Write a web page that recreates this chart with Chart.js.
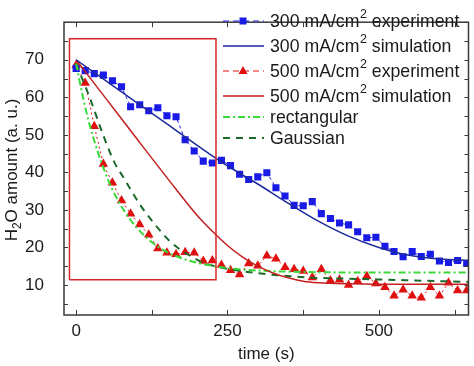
<!DOCTYPE html>
<html>
<head>
<meta charset="UTF-8">
<title>H2O amount</title>
<script src="https://cdn.jsdelivr.net/npm/chart.js"></script>
<style>
  html, body { margin: 0; padding: 0; background: #fff; }
</style>
</head>
<body>
<canvas id="grafico" width="474" height="366"></canvas>
<script>
// time axis of the measured points (s)
const expTime = [0, 15, 30, 45, 60, 75, 90, 105, 120, 135, 150, 165, 180, 195, 210, 225, 240, 255,
  270, 285, 300, 315, 330, 345, 360, 375, 390, 405, 420, 435, 450, 465, 480, 495, 510, 525,
  540, 555, 570, 585, 600, 615, 630, 645];
const exp300 = [67.7, 67.1, 66.3, 65.9, 64.4, 62.8, 57.5, 58.0, 56.4, 57.2, 55.1, 54.8, 48.7, 45.7,
  43.0, 42.5, 43.2, 41.8, 39.5, 38.1, 38.8, 39.9, 35.9, 33.7, 31.2, 31.1, 32.2, 29.0, 27.7, 26.5,
  26.0, 24.2, 22.6, 22.7, 20.3, 18.9, 17.5, 18.9, 17.6, 18.2, 16.4, 16.0, 16.5, 15.7];
const exp500 = [68.5, 63.8, 52.3, 42.2, 37.2, 32.5, 29.0, 26.1, 23.4, 19.7, 18.6, 18.2, 18.7, 18.6,
  16.4, 16.5, 15.3, 13.9, 12.8, 15.7, 15.1, 17.8, 17.0, 14.7, 14.2, 13.7, 12.0, 14.2, 11.2, 11.4,
  10.0, 11.0, 12.3, 10.4, 9.4, 7.1, 8.7, 7.1, 6.6, 9.4, 7.1, 10.6, 8.5, 8.5];

// simulations
const sim300Time = [0, 50, 100, 150, 200, 250, 300, 350, 400, 450, 500, 550, 600, 650];
const sim300 = [70, 64.3, 58.6, 52.9, 47.2, 41.7, 36.9, 31.8, 27.0, 23.0, 20.0, 17.9, 16.9, 16.6];
const sim500Time = [0, 50, 100, 150, 200, 225, 250, 275, 300, 325, 350, 375, 400, 450, 500, 650];
const sim500 = [70, 59.5, 49.0, 38.6, 28.5, 24.3, 20.5, 17.4, 15.0, 13.2, 11.9, 11.0, 10.6, 10.3, 10.2, 10.2];
const rectTime = [0, 12, 23, 30, 45, 60, 80, 100, 125, 150, 175, 200, 250, 300, 350, 400, 500, 650];
const rectVal = [69.0, 59.5, 52.2, 48.4, 41.2, 35.4, 29.6, 25.3, 21.4, 18.8, 17.1, 15.9, 14.5, 13.85, 13.55, 13.4, 13.3, 13.3];
const gaussTime = [0, 10, 23, 45, 64, 78, 92, 108, 138, 157, 190, 209, 250, 302, 384, 466, 560, 650];
const gaussVal = [69.0, 65.0, 59.7, 49.8, 42.4, 38.7, 34.9, 30.8, 24.6, 21.3, 17.6, 16.0, 14.3, 13.1, 12.0, 11.6, 11.2, 10.8];

// highlighted region
const boxTime = [-11, 231];
const boxVal = [11.4, 75.6];

const xTicks = [0, 250, 500];
const yTicks = [10, 20, 30, 40, 50, 60, 70];

const FONT = "'Liberation Sans', Arial, sans-serif";

function pts(xs, ys) {
  return xs.map((x, i) => ({ x: x, y: ys[i] }));
}

const boxPts = [
  { x: boxTime[0], y: boxVal[0] }, { x: boxTime[0], y: boxVal[1] },
  { x: boxTime[1], y: boxVal[1] }, { x: boxTime[1], y: boxVal[0] },
  { x: boxTime[0], y: boxVal[0] }
];

const legendItems = [
  { label: "300 mA/cm² experiment", color: "#1a1ae6", dash: [6, 4], width: 1.2, marker: "rect" },
  { label: "300 mA/cm² simulation", color: "#1c2a9c", dash: [], width: 1.5 },
  { label: "500 mA/cm² experiment", color: "#e01010", dash: [6, 4], width: 1.2, marker: "triangle" },
  { label: "500 mA/cm² simulation", color: "#c42020", dash: [], width: 1.5 },
  { label: "rectangular", color: "#38d838", dash: [7, 3, 2, 3], width: 2 },
  { label: "Gaussian", color: "#1b6a2c", dash: [7, 6], width: 2 }
];
const legendRows = [21, 46, 71, 96, 117, 138];

// frame + inward ticks + y title + legend
const decor = {
  id: "decor",
  afterDraw(chart) {
    const ctx = chart.ctx;
    const a = chart.chartArea;
    const xs = chart.scales.x, ys = chart.scales.y;
    ctx.save();
    ctx.strokeStyle = "#3a3a3a";
    ctx.lineWidth = 1.5;
    ctx.strokeRect(a.left, a.top, a.right - a.left, a.bottom - a.top);
    ctx.lineWidth = 1;
    [0, 125, 250, 375, 500, 625].forEach(v => {
      const px = Math.round(xs.getPixelForValue(v)) + 0.5;
      ctx.beginPath();
      ctx.moveTo(px, a.bottom); ctx.lineTo(px, a.bottom - 5);
      ctx.moveTo(px, a.top); ctx.lineTo(px, a.top + 5);
      ctx.stroke();
    });
    for (let v = 5; v <= 80; v += 5) {
      const py = Math.round(ys.getPixelForValue(v)) + 0.5;
      ctx.beginPath();
      ctx.moveTo(a.left, py); ctx.lineTo(a.left + 4, py);
      ctx.moveTo(a.right, py); ctx.lineTo(a.right - 4, py);
      ctx.stroke();
    }

    // y axis title with subscript
    ctx.fillStyle = "#1a1a1a";
    ctx.translate(12, 170);
    ctx.rotate(-Math.PI / 2);
    ctx.textBaseline = "middle";
    const big = "17px " + FONT, small = "12px " + FONT;
    ctx.font = big;
    const wH = ctx.measureText("H").width;
    const wRest = ctx.measureText("O amount (a. u.)").width;
    ctx.font = small;
    const w2 = ctx.measureText("2").width;
    let x0 = -(wH + w2 + wRest) / 2;
    ctx.font = big;
    ctx.fillText("H", x0, 0);
    ctx.font = small;
    ctx.fillText("2", x0 + wH, 6);
    ctx.font = big;
    ctx.fillText("O amount (a. u.)", x0 + wH + w2, 0);
    ctx.restore();

    // legend
    ctx.save();
    legendItems.forEach((it, i) => {
      const y = legendRows[i];
      ctx.strokeStyle = it.color;
      ctx.lineWidth = it.width;
      ctx.setLineDash(it.dash);
      ctx.beginPath();
      ctx.moveTo(223, y); ctx.lineTo(264, y);
      ctx.stroke();
      ctx.setLineDash([]);
      ctx.fillStyle = it.color;
      if (it.marker === "rect") {
        ctx.fillRect(239.5, y - 3.5, 7, 7);
      } else if (it.marker === "triangle") {
        ctx.beginPath();
        ctx.moveTo(243, y - 5); ctx.lineTo(247.5, y + 3); ctx.lineTo(238.5, y + 3);
        ctx.closePath(); ctx.fill();
      }
      ctx.fillStyle = "#1a1a1a";
      ctx.textBaseline = "middle";
      const parts = it.label.split("²");
      let x = 270;
      ctx.font = "17.7px " + FONT;
      ctx.fillText(parts[0], x, y + 1);
      x += ctx.measureText(parts[0]).width;
      if (parts.length > 1) {
        ctx.font = "12.5px " + FONT;
        ctx.fillText("2", x + 0.5, y - 6);
        x += ctx.measureText("2").width + 0.5;
        ctx.font = "17.7px " + FONT;
        ctx.fillText(parts[1], x, y + 1);
      }
    });
    ctx.restore();
  }
};

new Chart(document.getElementById("grafico"), {
  type: "line",
  data: {
    datasets: [
      {
        label: "box", data: boxPts, borderColor: "#d62828", borderWidth: 1.5,
        pointRadius: 0, tension: 0, fill: false
      },
      {
        label: "300 mA/cm² simulation", data: pts(sim300Time, sim300), borderColor: "#1c2a9c",
        borderWidth: 1.5, pointRadius: 0, cubicInterpolationMode: "monotone"
      },
      {
        label: "500 mA/cm² simulation", data: pts(sim500Time, sim500), borderColor: "#c42020",
        borderWidth: 1.5, pointRadius: 0, cubicInterpolationMode: "monotone"
      },
      {
        label: "rectangular", data: pts(rectTime, rectVal), borderColor: "#38d838",
        borderWidth: 2, borderDash: [7, 3, 2, 3], pointRadius: 0, cubicInterpolationMode: "monotone"
      },
      {
        label: "Gaussian", data: pts(gaussTime, gaussVal), borderColor: "#1b6a2c",
        borderWidth: 2, borderDash: [7, 6], pointRadius: 0, cubicInterpolationMode: "monotone"
      },
      {
        label: "300 mA/cm² experiment", data: pts(expTime, exp300), borderColor: "#1a1ae6",
        borderWidth: 1, borderDash: [3, 3], pointStyle: "rect", pointRadius: 5,
        pointBackgroundColor: "#1a1ae6", pointBorderWidth: 0, tension: 0
      },
      {
        label: "500 mA/cm² experiment", data: pts(expTime, exp500), borderColor: "#e01010",
        borderWidth: 1, borderDash: [2, 3], pointStyle: "triangle", pointRadius: 5.5,
        pointBackgroundColor: "#e01010", pointBorderWidth: 0, tension: 0
      }
    ]
  },
  options: {
    responsive: false,
    animation: false,
    devicePixelRatio: 1,
    layout: { padding: { top: 1, right: 3, left: 0, bottom: 0 } },
    plugins: { legend: { display: false }, tooltip: { enabled: false } },
    scales: {
      x: {
        type: "linear", min: -20, max: 648,
        afterFit: s => { s.height = 51; },
        afterBuildTicks: s => { s.ticks = xTicks.map(v => ({ value: v })); },
        grid: { display: false }, border: { display: false },
        ticks: { font: { family: FONT, size: 17 }, color: "#1a1a1a", padding: -2, maxRotation: 0 },
        title: { display: true, text: "time (s)", font: { family: FONT, size: 17 }, color: "#1a1a1a", padding: { top: 0, bottom: 1 } }
      },
      y: {
        type: "linear", min: 2, max: 80,
        afterFit: s => { s.width = 64; },
        afterBuildTicks: s => { s.ticks = yTicks.map(v => ({ value: v })); },
        grid: { display: false }, border: { display: false },
        ticks: { font: { family: FONT, size: 17 }, color: "#1a1a1a", padding: 12 }
      }
    }
  },
  plugins: [decor]
});
</script>
</body>
</html>
